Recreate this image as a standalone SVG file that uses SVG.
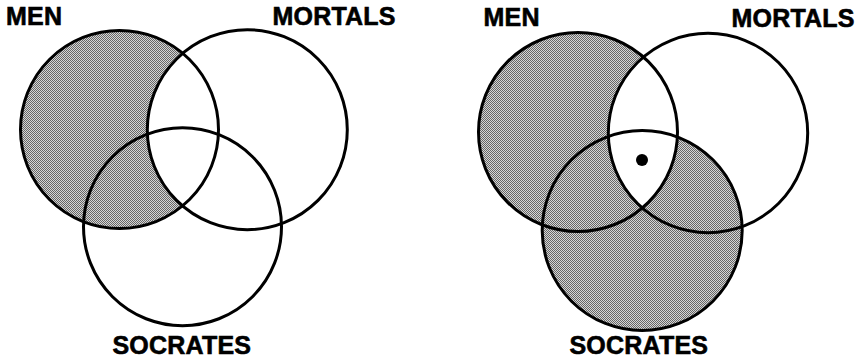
<svg xmlns="http://www.w3.org/2000/svg" width="867" height="362" viewBox="0 0 867 362">
<style>
.lbl{font-family:"Liberation Sans",Arial,sans-serif;font-weight:bold;font-size:25px;fill:#000;stroke:#000;stroke-width:0.6px;letter-spacing:0.2px}
.ring{fill:none;stroke:#000;stroke-width:3}
.shade{fill:url(#dots)}
.blank{fill:#fff}
</style>
<defs>
<pattern id="dots" width="2" height="2" patternUnits="userSpaceOnUse">
<rect width="2" height="2" fill="#d6d6d6"/>
<rect width="1" height="1" fill="#666"/>
<rect x="1" y="1" width="1" height="1" fill="#666"/>
</pattern>
<clipPath id="menR"><circle cx="578" cy="132" r="99.5"/></clipPath>
</defs>
<rect width="867" height="362" fill="#fff"/>
<g id="left-diagram">
<g id="left-shading">
<circle class="shade" cx="119.5" cy="129.5" r="99"/>
<circle class="blank" cx="247.3" cy="129.7" r="100"/>
</g>
<g id="left-men"><circle class="ring" cx="119.5" cy="129.5" r="99" stroke-width="3.5"/><text class="lbl" x="6" y="25">MEN</text></g>
<g id="left-mortals"><circle class="ring" cx="247.3" cy="129.7" r="100"/><text class="lbl" x="272.5" y="25">MORTALS</text></g>
<g id="left-socrates"><circle class="ring" cx="182.5" cy="226.7" r="99"/><text class="lbl" x="112.5" y="354">SOCRATES</text></g>
</g>
<g id="right-diagram">
<g id="right-shading">
<circle class="shade" cx="578" cy="132" r="99.5"/>
<circle class="shade" cx="642.2" cy="230.5" r="100"/>
<circle class="blank" cx="708" cy="133" r="99.7" clip-path="url(#menR)"/>
</g>
<g id="right-men"><circle class="ring" cx="578" cy="132" r="99.5"/><text class="lbl" x="483.5" y="26">MEN</text></g>
<g id="right-mortals"><circle class="ring" cx="708" cy="133" r="99.7"/><text class="lbl" x="731.5" y="26.5">MORTALS</text></g>
<g id="right-socrates"><circle class="ring" cx="642.2" cy="230.5" r="100"/><text class="lbl" x="569.5" y="354">SOCRATES</text></g>
<g id="socrates-dot"><circle cx="642" cy="160" r="6" fill="#000"/></g>
</g>
<g id="connectors"></g>
</svg>
